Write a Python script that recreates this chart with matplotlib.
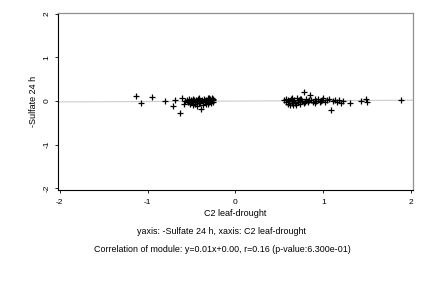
import matplotlib
matplotlib.use("Agg")
import matplotlib.pyplot as plt

plt.rcParams['font.family'] = ['Liberation Sans', 'DejaVu Sans']

# left cluster (C2 leaf-drought, -Sulfate 24 h)
x_left = [-1.13, -1.07, -0.95, -0.80, -0.71, -0.69, -0.63, -0.61, -0.59, -0.57,
          -0.55, -0.54, -0.53, -0.52, -0.51, -0.50, -0.49, -0.48, -0.47, -0.46,
          -0.45, -0.44, -0.43, -0.42, -0.41, -0.40, -0.39, -0.38, -0.37, -0.36,
          -0.35, -0.34, -0.33, -0.32, -0.31, -0.30, -0.29, -0.28, -0.27, -0.26,
          -0.25, -0.52, -0.48, -0.44, -0.41, -0.37, -0.33, -0.30, -0.28, -0.26,
          -0.46, -0.42, -0.35, -0.31, -0.27]
y_left = [0.12, -0.05, 0.10, 0.00, -0.11, 0.02, -0.27, 0.06, -0.07, 0.01,
          0.03, -0.02, 0.04, -0.06, 0.02, -0.03, 0.01, -0.08, 0.03, -0.01,
          0.02, -0.12, 0.04, -0.04, 0.00, -0.05, -0.18, 0.02, -0.03, 0.05,
          -0.02, 0.03, -0.06, 0.01, 0.06, -0.03, 0.04, -0.01, 0.08, 0.02,
          0.05, -0.04, 0.05, 0.01, 0.03, -0.08, 0.00, 0.07, -0.05, -0.02,
          -0.06, 0.06, 0.00, -0.07, 0.03]

# right cluster
x_right = [0.55, 0.57, 0.58, 0.60, 0.61, 0.62, 0.63, 0.64, 0.65, 0.66,
           0.67, 0.68, 0.70, 0.71, 0.72, 0.74, 0.75, 0.76, 0.78, 0.79,
           0.80, 0.82, 0.83, 0.85, 0.86, 0.88, 0.90, 0.92, 0.94, 0.96,
           0.98, 1.00, 1.02, 1.04, 1.06, 1.09, 1.11, 1.13, 1.15, 1.18,
           1.20, 1.22, 1.30, 1.43, 1.50, 1.49, 1.88, 0.60, 0.64, 0.69,
           0.73, 0.78, 0.84, 0.91, 0.97]
y_right = [0.03, -0.02, 0.05, -0.07, 0.01, -0.10, 0.04, -0.04, 0.00, -0.09,
           0.03, -0.05, 0.06, -0.03, 0.02, -0.06, 0.04, 0.00, 0.20, -0.02,
           0.05, 0.01, -0.03, 0.14, 0.03, -0.02, 0.04, 0.00, 0.05, -0.01,
           0.03, 0.06, -0.02, 0.02, 0.04, -0.21, 0.01, 0.03, -0.03, 0.02,
           -0.04, 0.01, -0.05, 0.00, -0.01, 0.05, 0.02, 0.02, 0.06, -0.08,
           0.05, -0.05, 0.03, -0.04, 0.01]

slope = 0.01
intercept = 0.00
xticks = [-2, -1, 0, 1, 2]
yticks = [-2, -1, 0, 1, 2]

fig = plt.figure(figsize=(4.32, 2.88), dpi=100)
ax = fig.add_axes([0.134, 0.34, 0.822, 0.615])

ax.plot([-2.02, 2.02], [intercept + slope * -2.02, intercept + slope * 2.02],
        color='#cccccc', lw=0.8, zorder=1)
ax.scatter(x_left + x_right, y_left + y_right, marker='+', s=16,
           color='black', linewidths=0.9, zorder=2)

ax.set_xlim(-2.02, 2.02)
ax.set_ylim(-2.04, 2.02)
ax.set_xticks(xticks)
ax.set_yticks(yticks)
ax.set_xticklabels([str(t) for t in xticks], fontsize=6)
ax.set_yticklabels([str(t) for t in yticks], fontsize=6, rotation=90, va='center')
ax.tick_params(axis='x', length=2.5, width=0.6, pad=4)
ax.tick_params(axis='y', length=2.5, width=0.6, pad=3)

for side in ['top', 'right']:
    ax.spines[side].set_color('#909090')
    ax.spines[side].set_linewidth(0.9)
for side in ['left', 'bottom']:
    ax.spines[side].set_color('black')
    ax.spines[side].set_linewidth(0.8)

ax.set_xlabel('C2 leaf-drought', fontsize=6.5, labelpad=2)
ax.set_ylabel('-Sulfate 24 h', fontsize=6.5, labelpad=4)

fig.text(222 / 432, 1 - 231 / 288, 'yaxis: -Sulfate 24 h, xaxis: C2 leaf-drought',
         ha='center', va='center', fontsize=6.4)
fig.text(222 / 432, 1 - 249 / 288,
         'Correlation of module: y=0.01x+0.00, r=0.16 (p-value:6.300e-01)',
         ha='center', va='center', fontsize=6.4)

fig.savefig('out.png', dpi=100)
